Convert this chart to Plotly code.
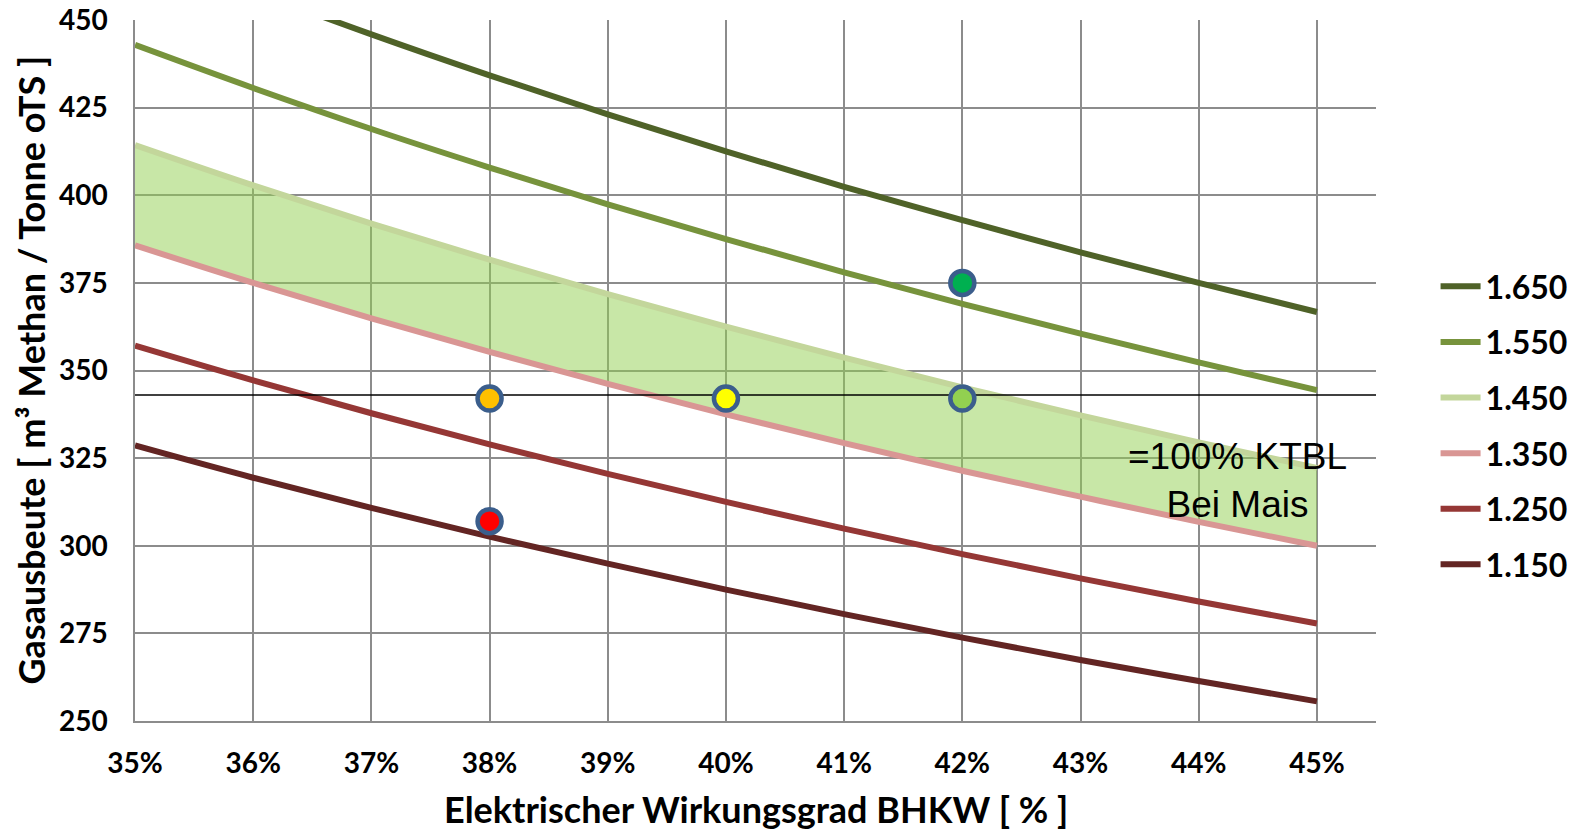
import plotly.graph_objects as go

# Electrical efficiency of the CHP unit (%)
efficiency = [35, 36, 37, 38, 39, 40, 41, 42, 43, 44, 45]
tick_labels = ["35%", "36%", "37%", "38%", "39%", "40%", "41%", "42%", "43%", "44%", "45%"]

# Required methane yield (m³ CH4 / t oTS) for each curve
yield_1650 = [471.4, 458.3, 445.9, 434.2, 423.1, 412.5, 402.4, 392.9, 383.7, 375.0, 366.7]
yield_1550 = [442.9, 430.6, 418.9, 407.9, 397.4, 387.5, 378.0, 369.0, 360.5, 352.3, 344.4]
yield_1450 = [414.3, 402.8, 391.9, 381.6, 371.8, 362.5, 353.7, 345.2, 337.2, 329.5, 322.2]
yield_1350 = [385.7, 375.0, 364.9, 355.3, 346.2, 337.5, 329.3, 321.4, 314.0, 306.8, 300.0]
yield_1250 = [357.1, 347.2, 337.8, 328.9, 320.5, 312.5, 304.9, 297.6, 290.7, 284.1, 277.8]
yield_1150 = [328.6, 319.4, 310.8, 302.6, 294.9, 287.5, 280.5, 273.8, 267.4, 261.4, 255.6]

series_names = ["1.650", "1.550", "1.450", "1.350", "1.250", "1.150"]
series_values = [yield_1650, yield_1550, yield_1450, yield_1350, yield_1250, yield_1150]
series_colors = ["#4F6228", "#77933C", "#C3D69B", "#D99694", "#953735", "#632523"]

# KTBL reference level for maize
ref_level = 343

# Individual plants
plant_x = [42, 38, 40, 42, 38]
plant_y = [375, 342, 342, 342, 307]
plant_colors = ["#00B050", "#FFC000", "#FFFF00", "#92D050", "#FF0000"]

X_RANGE = [35, 45.5]
Y_RANGE = [250, 450]

LABEL_FONT = "Lato, 'Open Sans', sans-serif"

fig = go.Figure()

# Shaded band between the 1.450 and 1.350 curves
fig.add_trace(go.Scatter(
    x=efficiency, y=yield_1450, mode="lines", line=dict(width=0, shape="spline"),
    showlegend=False, hoverinfo="skip"))
fig.add_trace(go.Scatter(
    x=efficiency, y=yield_1350, mode="lines", line=dict(width=0, shape="spline"),
    fill="tonexty", fillcolor="rgba(146,208,80,0.5)",
    showlegend=False, hoverinfo="skip"))

for i, (name, vals, col) in enumerate(zip(series_names, series_values, series_colors)):
    fig.add_trace(go.Scatter(
        x=efficiency, y=vals, mode="lines", name=name, legendgroup=f"g{i}",
        line=dict(color=col, width=6, shape="spline")))

# Reference line
fig.add_trace(go.Scatter(
    x=X_RANGE, y=[ref_level, ref_level], mode="lines",
    line=dict(color="black", width=1.5), showlegend=False, hoverinfo="skip",
    cliponaxis=False))

fig.add_trace(go.Scatter(
    x=plant_x, y=plant_y, mode="markers", showlegend=False,
    marker=dict(size=24, color=plant_colors, line=dict(color="#3B5E8C", width=4.5))))

fig.add_annotation(
    x=44.33, y=318.5, xref="x", yref="y", showarrow=False,
    text="=100% KTBL<br>Bei Mais", align="center",
    font=dict(family="'Liberation Sans', Arial, sans-serif", size=37, color="black"))

fig.add_annotation(
    x=0.5, y=-0.1255, xref="paper", yref="paper", showarrow=False,
    xanchor="center", yanchor="middle",
    text="Elektrischer Wirkungsgrad BHKW [ % ]",
    font=dict(family=LABEL_FONT, size=36, color="black", weight="bold"))

fig.add_annotation(
    x=-0.0846, y=0.5, xref="paper", yref="paper", showarrow=False,
    xanchor="center", yanchor="middle", textangle=-90,
    text="Gasausbeute [ m³ Methan / Tonne oTS ]",
    font=dict(family=LABEL_FONT, size=36, color="black", weight="bold"))

axis_common = dict(
    showgrid=True, gridcolor="#8C8C8C", gridwidth=1.5,
    showline=True, linecolor="#8C8C8C", linewidth=1.5,
    zeroline=False, ticks="", automargin=False,
    tickfont=dict(family=LABEL_FONT, size=28, color="black", weight="bold"),
)

fig.update_xaxes(range=X_RANGE, tickvals=efficiency, ticktext=tick_labels,
                 ticklabelstandoff=17, **axis_common)
fig.update_yaxes(range=Y_RANGE, tick0=250, dtick=25, ticklabelstandoff=20,
                 **axis_common)

fig.update_layout(
    width=1580, height=831,
    margin=dict(l=135, r=204, t=20, b=110, autoexpand=False),
    plot_bgcolor="white", paper_bgcolor="white",
    legend=dict(
        x=1.048, y=0.659, xanchor="left", yanchor="top",
        font=dict(family=LABEL_FONT, size=32, color="black", weight="bold"),
        tracegroupgap=11, itemwidth=40, bgcolor="rgba(0,0,0,0)"),
)

fig.write_html("out.html")
